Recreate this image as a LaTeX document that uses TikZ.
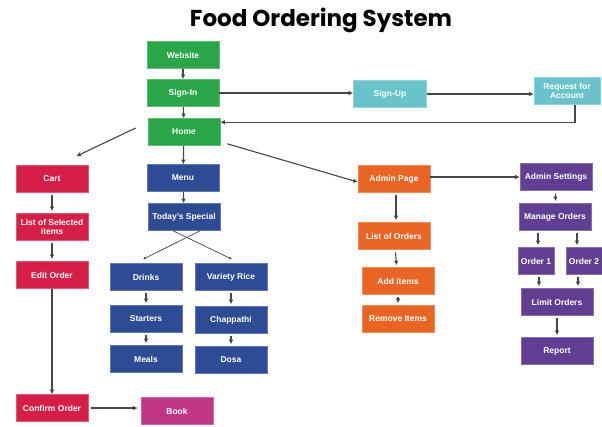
\documentclass[tikz,border=0pt]{standalone}
\usepackage{fontspec}
\setmainfont{Liberation Sans}
\newfontfamily\titlefont{Poppins}
\usetikzlibrary{arrows.meta}
\definecolor{webgreen}{RGB}{42,166,72}
\definecolor{signteal}{RGB}{104,196,202}
\definecolor{cartred}{RGB}{214,30,70}
\definecolor{menublue}{RGB}{46,76,150}
\definecolor{adminorange}{RGB}{234,100,36}
\definecolor{setpurple}{RGB}{96,62,146}
\definecolor{bookpink}{RGB}{192,54,134}
\definecolor{linkgray}{RGB}{70,70,70}
\tikzset{
  blk/.style={fill=#1, draw=#1!75!white, line width=0.6pt, text=white,
    font=\bfseries\fontsize{8.5}{9.5}\selectfont, minimum width=72pt,
    minimum height=27pt, inner sep=1pt, align=center},
  lnk/.style={draw=linkgray, line width=1.1pt, -{Latex[length=4.5pt,width=4.5pt]}},
  thinlnk/.style={draw=linkgray, line width=0.7pt, -{Latex[length=3pt,width=3pt]}},
  short/.style={shorten <=2.5pt, shorten >=2pt},
}
\begin{document}
\begin{tikzpicture}[x=1pt,y=-1pt]
  \useasboundingbox[fill=white] (0,0) rectangle (602,426);
  \node[font=\titlefont\bfseries\fontsize{23}{26}\selectfont] (title) at (321,20) {Food Ordering System};

  \node[blk=webgreen] (web) at (183,55) {Website};
  \node[blk=webgreen] (sign) at (183,93) {Sign-In};
  \node[blk=webgreen] (home) at (184,132) {Home};
  \node[blk=signteal, minimum width=73pt] (signup) at (390,94) {Sign-Up};
  \node[blk=signteal, minimum width=66pt] (req) at (567,91) {Request for\\Account};

  \node[blk=cartred] (cart) at (52,179) {Cart};
  \node[blk=cartred] (sel) at (52,227) {List of Selected\\items};
  \node[blk=cartred] (edit) at (52,275) {Edit Order};
  \node[blk=cartred] (confirm) at (52,408) {Confirm Order};
  \node[blk=bookpink] (book) at (177,411) {Book};

  \node[blk=menublue] (menu) at (183,178) {Menu};
  \node[blk=menublue] (tsp) at (184,217) {Today's Special};
  \node[blk=menublue] (drinks) at (146,277) {Drinks};
  \node[blk=menublue] (rice) at (231,277) {Variety Rice};
  \node[blk=menublue] (start) at (146,319) {Starters};
  \node[blk=menublue] (chap) at (231,320) {Chappathi};
  \node[blk=menublue] (meals) at (146,359) {Meals};
  \node[blk=menublue] (dosa) at (231,360) {Dosa};

  \node[blk=adminorange] (admin) at (394,179) {Admin Page};
  \node[blk=adminorange] (lorders) at (394,236) {List of Orders};
  \node[blk=adminorange] (additems) at (398,281) {Add items};
  \node[blk=adminorange] (remove) at (398,319) {Remove Items};

  \node[blk=setpurple] (aset) at (556,177) {Admin Settings};
  \node[blk=setpurple] (manage) at (555,217) {Manage Orders};
  \node[blk=setpurple, minimum width=36pt] (o1) at (536,261) {Order 1};
  \node[blk=setpurple, minimum width=36pt] (o2) at (584,261) {Order 2};
  \node[blk=setpurple] (limit) at (557,302) {Limit Orders};
  \node[blk=setpurple] (report) at (557,351) {Report};

  \draw[lnk] (web) -- (sign);
  \draw[lnk] (sign) -- (home);
  \draw[lnk] (sign.east) -- (sign.east -| signup.west);
  \draw[lnk] (signup.east) -- (signup.east -| req.west);
  \draw[lnk] ([xshift=8pt]req.south) |- ([yshift=-4pt]home.north east);
  \draw[lnk] ([xshift=-12pt,yshift=4pt]home.west) -- ([xshift=-12pt,yshift=9pt]cart.north east);
  \draw[lnk] (home) -- (menu);
  \draw[lnk] ([xshift=7pt,yshift=2pt]home.south east) -- ([yshift=-3pt]admin.west);
  \draw[lnk] (menu) -- (tsp);
  \draw[thinlnk] ([xshift=-11pt]tsp.south) -- ([xshift=1pt,yshift=4pt]rice.north);
  \draw[thinlnk] ([xshift=16pt]tsp.south) -- ([xshift=-3pt,yshift=4pt]drinks.north);
  \foreach \a/\b in {drinks/start, start/meals, rice/chap, chap/dosa, cart/sel, sel/edit,
      lorders/additems, additems/remove, aset/manage, limit/report}
    \draw[lnk, short] (\a) -- (\b);
  \draw[lnk] (edit) -- (confirm);
  \draw[lnk] ([xshift=3pt]confirm.east) -- ([xshift=-3pt]confirm.east -| book.west);
  \draw[lnk, short] ([xshift=2pt]admin.south) -- ([xshift=2pt]lorders.north);
  \draw[lnk] (admin.east |- aset) -- (aset.west);
  \draw[lnk, short] ([xshift=2pt]o1.north |- manage.south) -- ([xshift=2pt]o1.north);
  \draw[lnk, short] ([xshift=-7pt]o2.north |- manage.south) -- ([xshift=-7pt]o2.north);
  \draw[lnk, short] ([xshift=3pt]o1.south) -- ([xshift=3pt]o1.south |- limit.north);
  \draw[lnk, short] ([xshift=-6pt]o2.south) -- ([xshift=-6pt]o2.south |- limit.north);
\end{tikzpicture}
\end{document}
